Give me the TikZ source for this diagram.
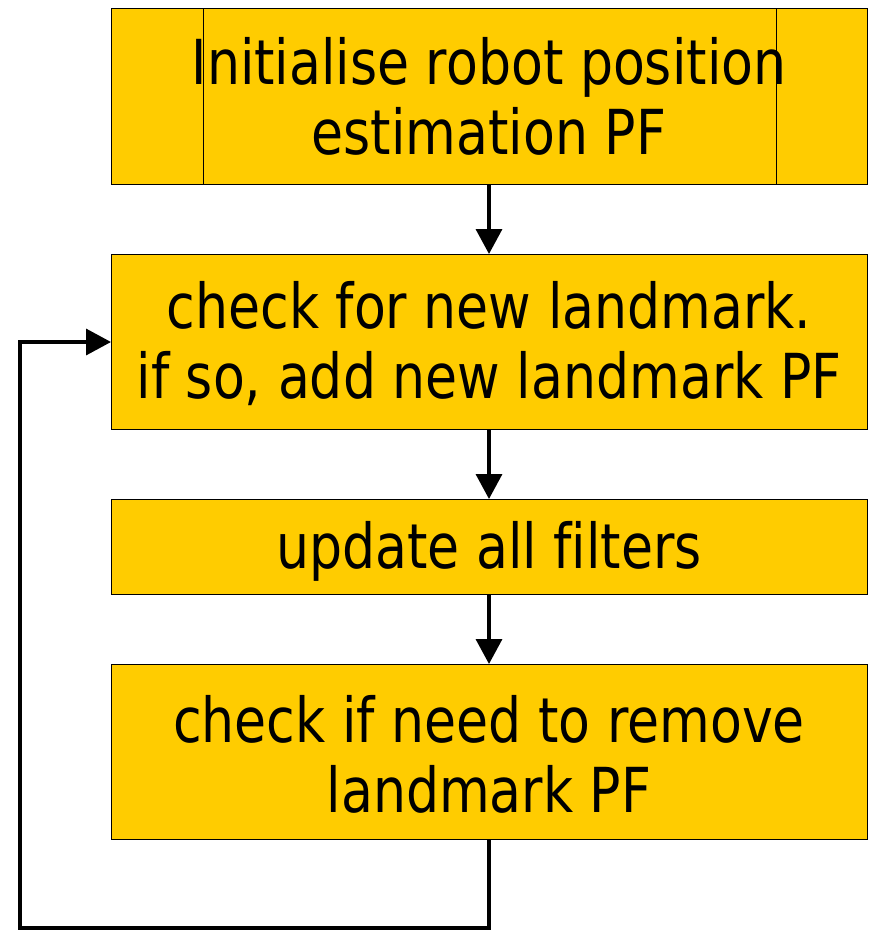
\documentclass[tikz,border=0pt]{standalone}
\usepackage{fontspec}
\setmainfont[FakeStretch=0.84,Ligatures=NoCommon]{DejaVu Sans}
\usetikzlibrary{arrows.meta}
\definecolor{boxfill}{RGB}{255,204,0}
\tikzset{
  box/.style={draw=black, line width=1pt, fill=boxfill},
  lbl/.style={align=center, font=\fontsize{62}{70}\selectfont, inner sep=0pt},
  conn/.style={line width=3.5pt, -{Triangle[length=25pt,width=26pt]}},
}
\begin{document}
\begin{tikzpicture}[x=1pt,y=-1pt]
\useasboundingbox (0,0) rectangle (869,930);
\draw[box] (111,8) rectangle (867,184);
\draw[line width=1pt] (203,8) -- (203,184) (776,8) -- (776,184);
\node[lbl] (t1) at (489,96) {Initialise robot position\\estimation PF};
\coordinate (b1b) at (489,184);
\draw[box] (111,254) rectangle (867,429);
\node[lbl] (t2) at (489,344) {check for new landmark.\\if so, add new landmark PF};
\coordinate (b2t) at (489,254);
\coordinate (b2b) at (489,429);
\coordinate (b2l) at (111,342);
\draw[box] (111,499) rectangle (867,594);
\node[lbl] (t3) at (489,551) {update all filters};
\coordinate (b3t) at (489,499);
\coordinate (b3b) at (489,594);
\draw[box] (111,664) rectangle (867,839);
\node[lbl] (t4) at (489,754) {check if need to remove\\landmark PF};
\coordinate (b4t) at (489,664);
\coordinate (b4b) at (489,839);
\coordinate (c1) at (489,928);
\coordinate (c2) at (20,928);
\coordinate (c3) at (20,342);
\draw[conn] (b1b) -- (b2t);
\draw[conn] (b2b) -- (b3t);
\draw[conn] (b3b) -- (b4t);
\draw[conn] (b4b) -- (c1) -- (c2) -- (c3) -- (b2l);
\end{tikzpicture}
\end{document}
